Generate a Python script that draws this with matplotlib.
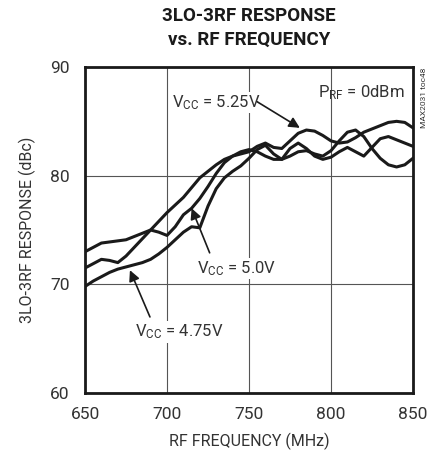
import numpy as np
import matplotlib
matplotlib.use('Agg')
import matplotlib.pyplot as plt

# шрифти: найвужчий із доступних
plt.rcParams['font.family'] = ['Roboto', 'DejaVu Sans']
plt.rcParams['mathtext.fontset'] = 'custom'
plt.rcParams['mathtext.rm'] = 'Roboto'
plt.rcParams['mathtext.it'] = 'Roboto'

# дані
freq = [650, 655, 660, 665, 670, 675, 680, 685, 690, 695, 700, 705, 710, 715, 720,
        725, 730, 735, 740, 745, 750, 755, 760, 765, 770, 775, 780, 785, 790, 795,
        800, 805, 810, 815, 820, 825, 830, 835, 840, 845, 850]

vcc_525 = [71.5, 71.9, 72.3, 72.2, 72.0, 72.6, 73.4, 74.2, 75.0, 75.8, 76.6, 77.3, 78.0, 78.9, 79.8,
           80.4, 81.0, 81.5, 81.8, 82.0, 82.2, 82.7, 83.0, 82.6, 82.5, 83.2, 83.9, 84.2, 84.1, 83.7,
           83.2, 83.0, 83.1, 83.5, 84.0, 84.3, 84.6, 84.9, 85.0, 84.9, 84.4]

vcc_50 = [73.0, 73.4, 73.8, 73.9, 74.0, 74.1, 74.4, 74.7, 75.0, 74.8, 74.5, 75.3, 76.4, 77.0, 77.9,
          79.0, 80.2, 81.2, 81.8, 82.2, 82.4, 82.2, 81.8, 81.5, 81.5, 81.8, 82.2, 82.3, 82.0, 81.8,
          82.3, 83.2, 84.0, 84.2, 83.6, 82.5, 81.6, 81.0, 80.8, 81.0, 81.6]

vcc_475 = [69.8, 70.3, 70.7, 71.1, 71.4, 71.6, 71.8, 72.0, 72.3, 72.8, 73.4, 74.1, 74.8, 75.3, 75.2,
           77.2, 78.8, 79.8, 80.4, 80.9, 81.6, 82.4, 82.8, 82.0, 81.5, 82.5, 83.0, 82.5, 81.8, 81.5,
           81.7, 82.2, 82.6, 82.2, 81.8, 82.6, 83.4, 83.6, 83.3, 83.0, 82.7]

xticks = [650, 700, 750, 800, 850]
yticks = [60, 70, 80, 90]

fig = plt.figure(figsize=(4.35, 4.58), dpi=100)
ax = fig.add_axes([85 / 435, 65 / 458, 328 / 435, 326 / 458])

for v in (vcc_525, vcc_50, vcc_475):
    ax.plot(freq, v, color='#1a1a1a', lw=2.2, solid_joinstyle='round', zorder=3)

ax.set_xlim(650, 850)
ax.set_ylim(60, 90)
ax.set_xticks(xticks)
ax.set_yticks(yticks)
ax.tick_params(length=0, labelsize=12.5, colors='#333333')
ax.tick_params(axis='x', pad=10)
ax.tick_params(axis='y', pad=11)
ax.grid(True, color='#555555', lw=0.8)
for s in ax.spines.values():
    s.set_linewidth(2.0)
    s.set_color('#1a1a1a')

ax.set_xlabel('RF FREQUENCY (MHz)', fontsize=11.5, color='#333333', labelpad=8)
ax.set_ylabel('3LO-3RF RESPONSE (dBc)', fontsize=11.5, color='#333333', labelpad=10)
fig.text(249 / 435, 1 - 28 / 458, '3LO-3RF RESPONSE\nvs. RF FREQUENCY', ha='center', va='center',
         fontsize=13.5, fontweight='bold', color='#1a1a1a', linespacing=1.45)

box = dict(facecolor='white', edgecolor='none', pad=1)
arr = dict(arrowstyle='-|>', lw=1.2, color='#1a1a1a', mutation_scale=16, shrinkA=0, shrinkB=0)

ax.text(703, 86.3, r'V$_{\rm CC}$ = 5.25V', fontsize=12, color='#333333', bbox=box, zorder=4)
ax.annotate('', xy=(781, 84.4), xytext=(755, 86.8), arrowprops=arr, zorder=4)

ax.text(718, 71.0, r'V$_{\rm CC}$ = 5.0V', fontsize=12, color='#333333', bbox=box, zorder=4)
ax.annotate('', xy=(715, 77.0), xytext=(726, 72.9), arrowprops=arr, zorder=4)

ax.text(680.5, 65.2, r'V$_{\rm CC}$ = 4.75V', fontsize=12, color='#333333', bbox=box, zorder=4)
ax.annotate('', xy=(677.4, 71.3), xytext=(689.6, 67.0), arrowprops=arr, zorder=4)

ax.text(792, 87.2, r'P$_{\rm RF}$ = 0dBm', fontsize=12, color='#333333', zorder=4)

fig.text(424 / 435, 1 - 98 / 458, 'MAX2031 toc48', rotation=90, ha='center', va='center',
         fontsize=6, color='#333333')

fig.savefig('out.png', dpi=100)
